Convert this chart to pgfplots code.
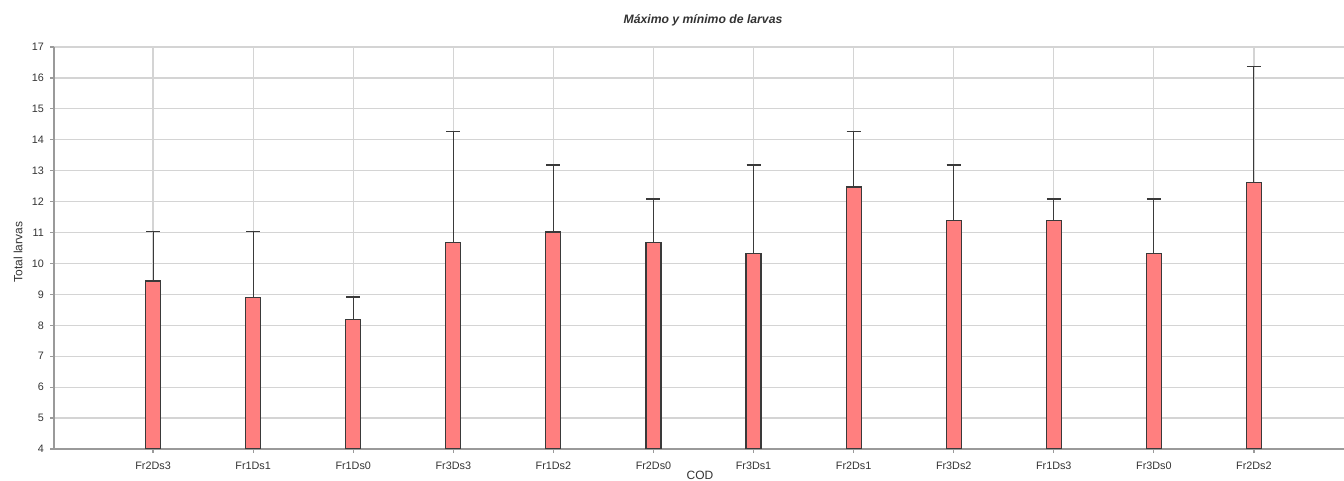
\documentclass[border=0pt]{standalone}
\usepackage{pgfplots}
\pgfplotsset{compat=1.18}
\usepackage{pgfplotstable}
\usepackage{fontspec}
\setmainfont{Liberation Sans}

\definecolor{barfill}{HTML}{FF7F7F}
\definecolor{bardraw}{HTML}{3A3A3A}
\definecolor{gridgray}{HTML}{D4D4D4}
\definecolor{axisgray}{HTML}{9A9A9A}
\definecolor{labelgray}{HTML}{333333}

% mean and maximum number of larvae per code
\pgfplotstableread{
idx mean max
0  9.43 11.03
1  8.90 11.03
2  8.20  8.91
3 10.68 14.26
4 11.02 13.19
5 10.67 12.08
6 10.31 13.19
7 12.47 14.26
8 11.38 13.19
9 11.38 12.08
10 10.31 12.08
11 12.63 16.36
}\larvas

\begin{document}
\begin{tikzpicture}
\useasboundingbox (0,0) rectangle (672pt,240.5pt);
\begin{axis}[
  at={(27pt,16pt)}, anchor=south west,
  scale only axis, width=645pt, height=201pt,
  xmin=-0.99, xmax=11.9, ymin=4, ymax=17,
  ytick={4,...,17},
  xtick={0,...,11},
  xticklabels={Fr2Ds3,Fr1Ds1,Fr1Ds0,Fr3Ds3,Fr1Ds2,Fr2Ds0,Fr3Ds1,Fr2Ds1,Fr3Ds2,Fr1Ds3,Fr3Ds0,Fr2Ds2},
  axis x line*=bottom, axis y line*=left,
  axis line style={draw=axisgray, line width=1.3pt, -},
  grid=major,
  major grid style={draw=gridgray, line width=0.6pt},
  tick align=outside,
  major tick length=2pt,
  tick style={draw=axisgray, line width=0.6pt},
  /pgf/number format/assume math mode=true,
  ticklabel style={font=\fontsize{5.4}{6}\selectfont, text=labelgray},
  xticklabel style={yshift=-1pt},
  yticklabel style={xshift=0.5pt},
  clip=true,
]
\addplot[ybar, bar width=7.5pt, fill=barfill, draw=bardraw, line width=0.6pt,
  error bars/.cd, y dir=plus, y explicit,
  error bar style={draw=bardraw, line width=0.55pt},
  error mark options={draw=bardraw, rotate=90, mark size=3.5pt, line width=0.7pt}]
  table[x=idx, y=mean, y error expr=\thisrow{max}-\thisrow{mean}] {\larvas};
\end{axis}
\node[font=\bfseries\itshape\fontsize{6.1}{7}\selectfont, text=labelgray] at (351.5pt,230.5pt) {Máximo y mínimo de larvas};
\node[font=\fontsize{6}{7}\selectfont, text=labelgray, rotate=90] at (9pt,114.5pt) {Total larvas};
\node[font=\fontsize{6}{7}\selectfont, text=labelgray, anchor=base, inner sep=0pt] at (350pt,0.6pt) {COD};
\end{tikzpicture}
\end{document}
